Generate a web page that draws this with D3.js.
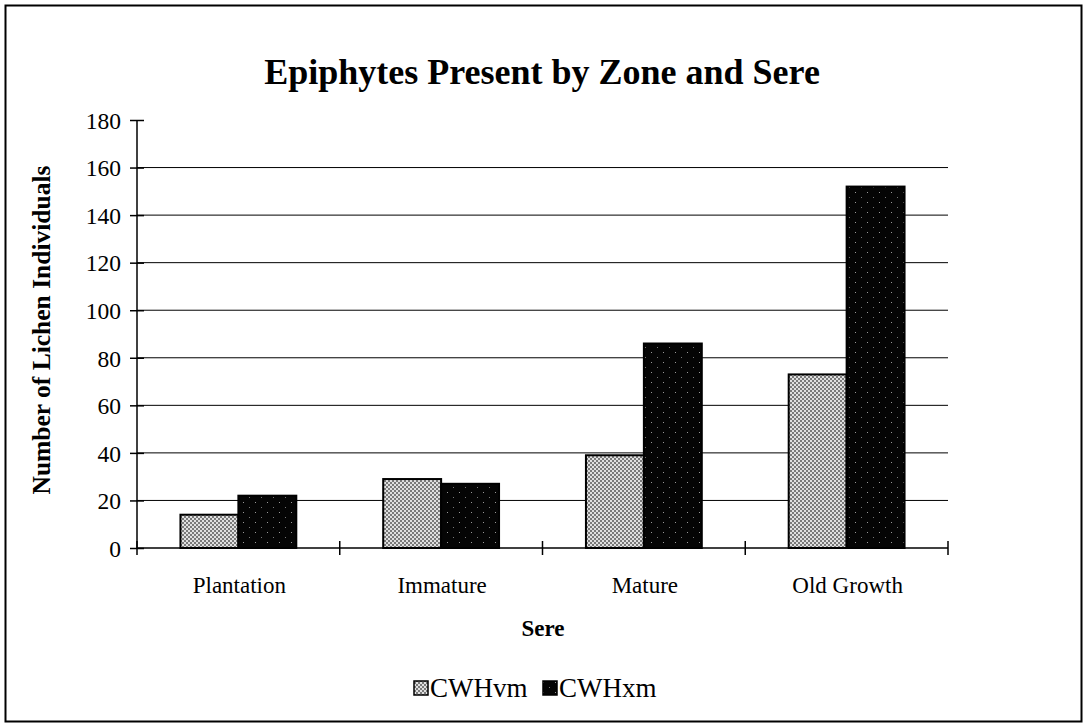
<!DOCTYPE html>
<html lang="en">
<head>
<script src="https://d3js.org/d3.v7.min.js"></script>
<style>
  body { margin: 0; background: #fff; }
  text { font-family: "Liberation Serif", "Times New Roman", serif; fill: #000; }
</style>
</head>
<body>
<script>
var seres = ["Plantation", "Immature", "Mature", "Old Growth"];
var zones = ["CWHvm", "CWHxm"];
var cwhvm = [14, 29, 39, 73];
var cwhxm = [22, 27, 86, 152];
var yTicks = [0, 20, 40, 60, 80, 100, 120, 140, 160, 180];

var width = 1084, height = 725;
var margin = {left: 137, right: 136, top: 120, bottom: 177};

var svg = d3.select("body").append("svg")
  .attr("width", width)
  .attr("height", height);

// patterns
var defs = svg.append("defs");
var p1 = defs.append("pattern").attr("id", "pvm")
  .attr("patternUnits", "userSpaceOnUse").attr("width", 4).attr("height", 4);
p1.append("rect").attr("width", 4).attr("height", 4).attr("fill", "#e0e0e0");
p1.append("rect").attr("x", 0).attr("y", 0).attr("width", 2).attr("height", 2).attr("fill", "#7a7a7a");
p1.append("rect").attr("x", 2).attr("y", 2).attr("width", 2).attr("height", 2).attr("fill", "#7a7a7a");
var p2 = defs.append("pattern").attr("id", "pxm")
  .attr("patternUnits", "userSpaceOnUse").attr("width", 12).attr("height", 10);
p2.append("rect").attr("width", 12).attr("height", 10).attr("fill", "#050505");
p2.append("rect").attr("x", 3).attr("y", 2).attr("width", 1).attr("height", 1).attr("fill", "#999");
p2.append("rect").attr("x", 9).attr("y", 7).attr("width", 1).attr("height", 1).attr("fill", "#777");

// outer frame
svg.append("rect").attr("x", 5.5).attr("y", 5.5)
  .attr("width", 1076).attr("height", 716)
  .attr("fill", "none").attr("stroke", "#000").attr("stroke-width", 2);

var x0 = d3.scaleBand().domain(seres)
  .range([margin.left, width - margin.right]);
var x1 = d3.scaleBand().domain(zones)
  .range([0, x0.bandwidth()]).paddingOuter(0.75).paddingInner(0);
var y = d3.scaleLinear().domain([0, 180])
  .range([height - margin.bottom, margin.top]);

var g = svg.append("g");

// gridlines
g.selectAll(".grid").data(yTicks.filter(function(d){ return d > 0 && d < 180; }))
  .enter().append("line")
  .attr("x1", margin.left).attr("x2", width - margin.right)
  .attr("y1", function(d){ return y(d); }).attr("y2", function(d){ return y(d); })
  .attr("stroke", "#000").attr("stroke-width", 1);

// bars
var series = [cwhvm, cwhxm];
var fills = ["url(#pvm)", "url(#pxm)"];
zones.forEach(function(z, zi) {
  g.selectAll(".bar" + zi).data(series[zi]).enter().append("rect")
    .attr("x", function(d, i){ return x0(seres[i]) + x1(z); })
    .attr("y", function(d){ return y(d); })
    .attr("width", x1.bandwidth())
    .attr("height", function(d){ return y(0) - y(d); })
    .attr("fill", fills[zi])
    .attr("stroke", "#000").attr("stroke-width", 2);
});

// y axis
var yAxis = d3.axisLeft(y).tickValues(yTicks).tickSize(7).tickPadding(9);
var ya = svg.append("g").attr("transform", "translate(" + margin.left + ",0)").call(yAxis);
ya.select(".domain").remove();
ya.append("line").attr("y1", y(0)).attr("y2", y(180)).attr("stroke", "#000").attr("stroke-width", 1.5);
ya.selectAll(".tick line").attr("x1", 7).attr("x2", -7).attr("stroke-width", 1.5);
ya.selectAll(".tick text").style("font-size", "23.5px").attr("dy", "0.35em");

// x axis
var xa = svg.append("g").attr("transform", "translate(0," + y(0) + ")");
xa.append("line").attr("x1", margin.left).attr("x2", width - margin.right)
  .attr("stroke", "#000").attr("stroke-width", 1.5);
var bounds = seres.map(function(s){ return x0(s); }).concat([width - margin.right]);
xa.selectAll(".xt").data(bounds).enter().append("line")
  .attr("x1", function(d){ return d; }).attr("x2", function(d){ return d; })
  .attr("y1", -7).attr("y2", 7).attr("stroke", "#000").attr("stroke-width", 1.5);
xa.selectAll(".xl").data(seres).enter().append("text")
  .attr("x", function(d){ return x0(d) + x0.bandwidth() / 2 + 1; })
  .attr("y", 45).attr("text-anchor", "middle")
  .style("font-size", "23px").text(function(d){ return d; });

// titles
svg.append("text").attr("x", 542).attr("y", 84).attr("text-anchor", "middle")
  .style("font-size", "36px").style("font-weight", "bold")
  .text("Epiphytes Present by Zone and Sere");
svg.append("text").attr("x", 543).attr("y", 636).attr("text-anchor", "middle")
  .style("font-size", "23px").style("font-weight", "bold").text("Sere");
svg.append("text")
  .attr("transform", "translate(50," + ((y(0) + y(180)) / 2 - 4) + ") rotate(-90)")
  .attr("text-anchor", "middle")
  .style("font-size", "25.5px").style("font-weight", "bold")
  .text("Number of Lichen Individuals");

// legend
var legend = svg.append("g");
var lx = [414, 543];
zones.forEach(function(z, i) {
  legend.append("rect").attr("x", lx[i]).attr("y", 681).attr("width", 14).attr("height", 14)
    .attr("fill", fills[i]).attr("stroke", "#000").attr("stroke-width", 1.5);
  legend.append("text").attr("x", lx[i] + 16).attr("y", 697)
    .style("font-size", "27px").text(z);
});
</script>
</body>
</html>
